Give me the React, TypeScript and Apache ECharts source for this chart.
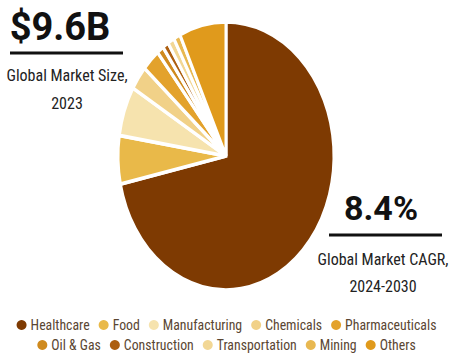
import React, { useEffect, useRef } from 'react';
import * as echarts from 'echarts';

const categories = ['Healthcare', 'Food', 'Manufacturing', 'Chemicals', 'Pharmaceuticals', 'Oil & Gas', 'Construction', 'Transportation', 'Mining', 'Others'];
const shares = [71.5, 5.8, 6.0, 2.9, 2.7, 1.0, 0.9, 1.0, 1.0, 7.0];
const colors = ['#7E3A02', '#E9B949', '#F6E3AE', '#F1D188', '#E3A22C', '#CF8A1E', '#AD5F10', '#F2D795', '#E8B851', '#E09A1C'];
const sizeTexts = ['$9.6B', 'Global Market Size,', '2023'];
const cagrTexts = ['8.4%', 'Global Market CAGR,', '2024-2030'];

const narrow = '"Liberation Sans Narrow", "Roboto Condensed", Roboto, sans-serif';

export default function App() {
  const ref = useRef<HTMLDivElement>(null);
  useEffect(() => {
    if (!ref.current) return;
    const chart = echarts.init(ref.current, undefined, { renderer: 'svg' });
    const total = shares.reduce((a, b) => a + b, 0);
    const starts: number[] = [];
    let acc = 0;
    shares.forEach((v) => { starts.push(acc); acc += v; });
    const cx = 226, cy = 156, rx = 108, ry = 134;
    const series = categories.map((name, i) => ({
      type: 'custom',
      name,
      coordinateSystem: 'none',
      itemStyle: { color: colors[i] },
      data: [shares[i]],
      renderItem: (params: any, api: any) => {
        const v = api.value(0);
        const a0 = -Math.PI / 2 + (starts[i] / total) * Math.PI * 2;
        const a1 = a0 + (v / total) * Math.PI * 2;
        return {
          type: 'sector',
          x: cx,
          y: cy,
          scaleY: ry / rx,
          shape: { cx: 0, cy: 0, r0: 0, r: rx, startAngle: a0, endAngle: a1, clockwise: true },
          style: { fill: colors[i], stroke: '#ffffff', lineWidth: 3, strokeNoScale: true },
        };
      },
    }));
    const legendBase = {
      left: 'center',
      icon: 'circle',
      itemWidth: 10,
      itemHeight: 10,
      itemGap: 9,
      selectedMode: false,
      textStyle: { fontFamily: narrow, fontSize: 13.8, color: '#5a4632', padding: [0, 0, 0, -1] },
    };
    chart.setOption({
      animation: false,
      backgroundColor: '#ffffff',
      legend: [
        { ...legendBase, data: categories.slice(0, 5), top: 313 },
        { ...legendBase, data: categories.slice(5), top: 333 },
      ],
      series,
      graphic: [
        { type: 'text', x: 60, y: 27, style: { text: sizeTexts[0], font: 'bold 38px Roboto', fill: '#111', textAlign: 'center', textVerticalAlign: 'middle' } },
        { type: 'line', shape: { x1: 10, y1: 53, x2: 123, y2: 53 }, style: { stroke: '#111', lineWidth: 3 } },
        { type: 'text', x: 67, y: 75, style: { text: sizeTexts[1], font: '16px ' + narrow, fill: '#222', textAlign: 'center', textVerticalAlign: 'middle' } },
        { type: 'text', x: 67, y: 103, style: { text: sizeTexts[2], font: '16px ' + narrow, fill: '#222', textAlign: 'center', textVerticalAlign: 'middle' } },
        { type: 'text', x: 381, y: 208, style: { text: cagrTexts[0], font: 'bold 34px Roboto', fill: '#111', textAlign: 'center', textVerticalAlign: 'middle' } },
        { type: 'line', shape: { x1: 329, y1: 235, x2: 442, y2: 235 }, style: { stroke: '#111', lineWidth: 3 } },
        { type: 'text', x: 383, y: 259, style: { text: cagrTexts[1], font: '16px ' + narrow, fill: '#222', textAlign: 'center', textVerticalAlign: 'middle' } },
        { type: 'text', x: 383, y: 286, style: { text: cagrTexts[2], font: '16px ' + narrow, fill: '#222', textAlign: 'center', textVerticalAlign: 'middle' } },
      ],
    });
    return () => chart.dispose();
  }, []);
  return <div ref={ref} style={{ position: 'fixed', left: 0, top: 0, width: 453, height: 353 }} />;
}
